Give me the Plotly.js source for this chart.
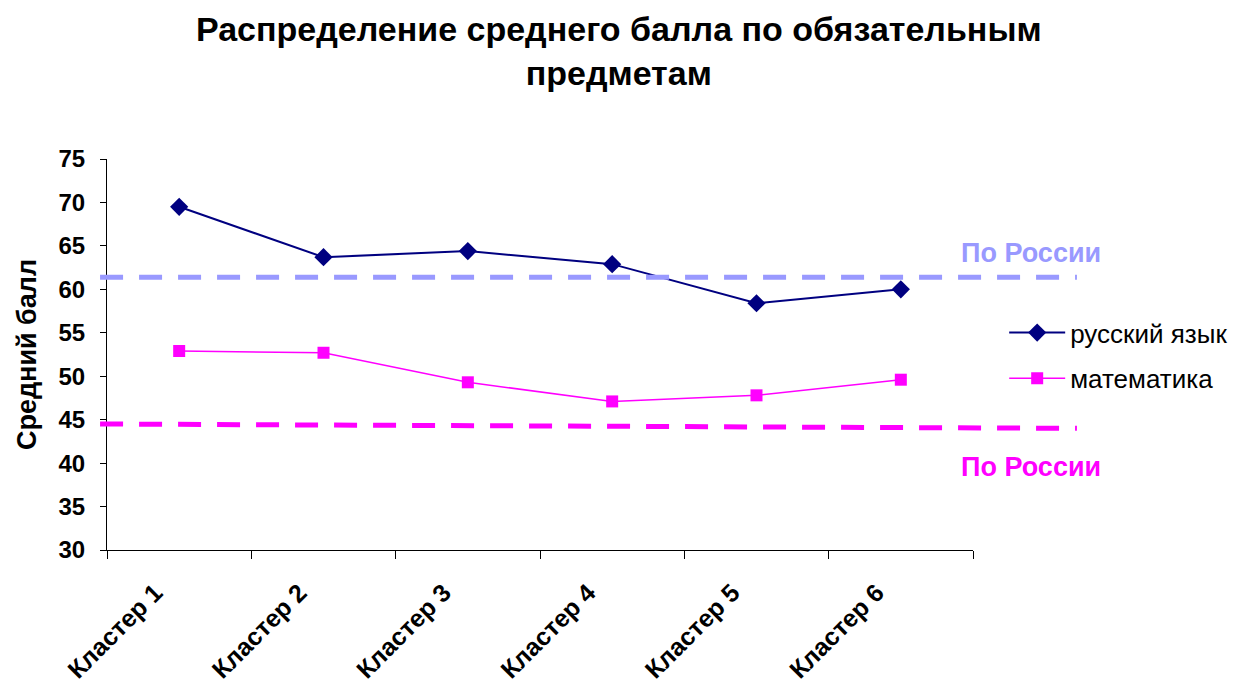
<!DOCTYPE html>
<html>
<head>
<meta charset="utf-8">
<script src="https://cdn.plot.ly/plotly-3.0.1.min.js"></script>
<style>html,body{margin:0;padding:0;background:#fff;}#chart{width:1245px;height:687px;}</style>
</head>
<body>
<div id="chart"></div>
<script>
var categories = ["Кластер 1", "Кластер 2", "Кластер 3", "Кластер 4", "Кластер 5", "Кластер 6"];
var russianValues = [69.5, 63.7, 64.4, 62.9, 58.4, 60.0];
var mathValues = [52.9, 52.7, 49.3, 47.1, 47.8, 49.6];
var russiaRussian = [61.4, 61.4];
var russiaMath = [44.5, 44.0];
var yTicks = [30, 35, 40, 45, 50, 55, 60, 65, 70, 75];
var seriesNames = ["русский язык", "математика"];
var russiaLabel = "По России";

var FONT = "Liberation Sans, Arial, sans-serif";

var traces = [
  {
    x: categories, y: russianValues, name: seriesNames[0], type: "scatter", mode: "lines+markers",
    legendgroup: "a",
    line: {color: "#000080", width: 2},
    marker: {symbol: "diamond", size: 14, color: "#000080"}
  },
  {
    x: categories, y: mathValues, name: seriesNames[1], type: "scatter", mode: "lines+markers",
    legendgroup: "b",
    line: {color: "#FF00FF", width: 1.5},
    marker: {symbol: "square", size: 12, color: "#FF00FF"}
  }
];

var layout = {
  width: 1245, height: 687,
  margin: {l: 107, r: 270, t: 159, b: 137},
  paper_bgcolor: "#fff", plot_bgcolor: "#fff",
  font: {family: FONT, color: "#000"},
  title: {
    text: "Распределение среднего балла по обязательным<br>предметам",
    font: {family: FONT, size: 34, color: "#000", weight: "bold"},
    xref: "container", x: 0.497, xanchor: "center",
    yref: "container", y: 0.941, yanchor: "middle"
  },
  showlegend: true,
  legend: {
    x: 1.036, y: 0.616, xanchor: "left", yanchor: "top",
    font: {family: FONT, size: 26, color: "#000"},
    bgcolor: "rgba(0,0,0,0)", traceorder: "grouped", tracegroupgap: 9,
    itemwidth: 56
  },
  xaxis: {
    type: "category",
    range: [-0.5, 5.5],
    tickson: "boundaries",
    ticks: "outside", ticklen: 8, tickcolor: "#000", tickwidth: 1,
    showline: true, linecolor: "#000", linewidth: 1,
    showgrid: false, zeroline: false,
    tickangle: -45,
    ticklabelstandoff: 17,
    ticklabelshift: -24,
    tickfont: {family: FONT, size: 25, color: "#000", weight: "bold"}
  },
  yaxis: {
    range: [30, 75],
    tickvals: yTicks,
    ticks: "outside", ticklen: 6, tickcolor: "#000", tickwidth: 1,
    showline: true, linecolor: "#000", linewidth: 1,
    showgrid: false, zeroline: false,
    ticklabelstandoff: 10,
    tickfont: {family: FONT, size: 24, color: "#000", weight: "bold"},
    title: {text: "Средний балл", font: {family: FONT, size: 27, color: "#000", weight: "bold"}, standoff: 14}
  },
  shapes: [
    {type: "line", xref: "paper", yref: "y", x0: -0.008, x1: 1.12, y0: russiaRussian[0], y1: russiaRussian[1],
     line: {color: "#9999FF", width: 5, dash: "23px,16px"}},
    {type: "line", xref: "paper", yref: "y", x0: -0.008, x1: 1.12, y0: russiaMath[0], y1: russiaMath[1],
     line: {color: "#FF00FF", width: 5, dash: "23px,16px"}}
  ],
  annotations: [
    {xref: "paper", yref: "y", x: 1.067, y: russiaRussian[0] + 2.8, text: russiaLabel, showarrow: false,
     xanchor: "center", yanchor: "middle", font: {family: FONT, size: 27, color: "#9999FF", weight: "bold"}},
    {xref: "paper", yref: "y", x: 1.067, y: russiaMath[1] - 4.5, text: russiaLabel, showarrow: false,
     xanchor: "center", yanchor: "middle", font: {family: FONT, size: 27, color: "#FF00FF", weight: "bold"}}
  ]
};

Plotly.newPlot("chart", traces, layout, {displayModeBar: false, staticPlot: true});
</script>
</body>
</html>
